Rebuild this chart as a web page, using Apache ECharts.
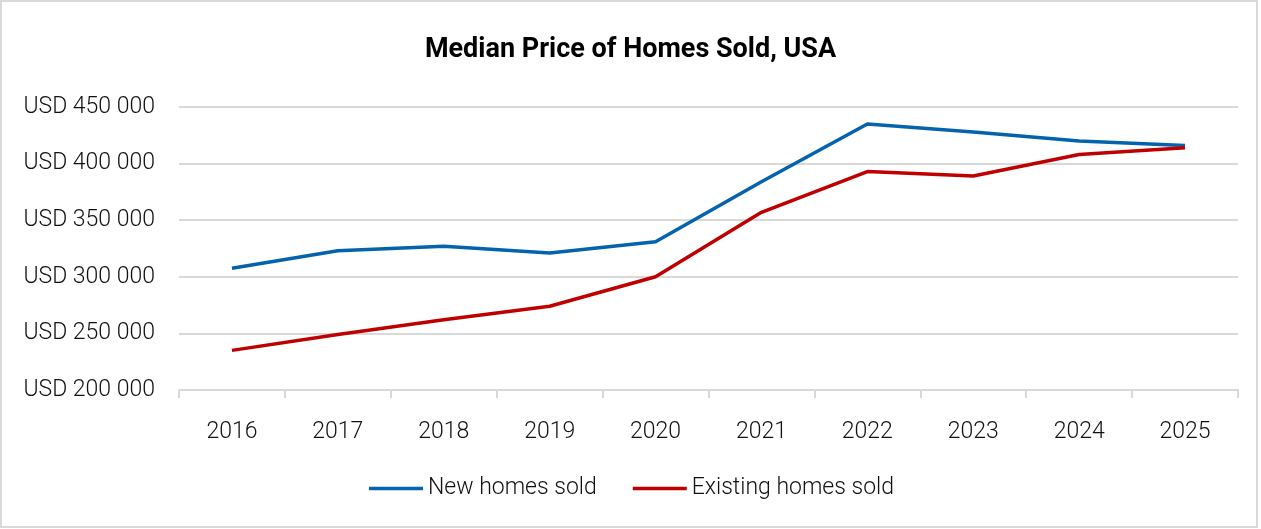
<!DOCTYPE html>
<html><head><meta charset="utf-8">
<script src="https://cdn.jsdelivr.net/npm/echarts@6/dist/echarts.min.js"></script>
<style>html,body{margin:0;padding:0;background:#fff;}#c{width:1261px;height:529px;}</style>
</head><body><div id="c"></div>
<script>
const years = ['2016','2017','2018','2019','2020','2021','2022','2023','2024','2025'];
const newHomes = [307500, 323000, 327000, 321000, 331000, 384000, 435000, 428000, 420000, 416000];
const existingHomes = [235000, 249000, 262000, 274000, 300000, 357000, 393000, 389000, 408000, 414000];
const seriesNames = ['New homes sold', 'Existing homes sold'];
const titleText = 'Median Price of Homes Sold, USA';

const font = 'Roboto';
const chart = echarts.init(document.getElementById('c'));
chart.setOption({
  animation: false,
  backgroundColor: '#fff',
  graphic: [{type:'rect', shape:{x:1,y:1,width:1256,height:526}, style:{fill:'none', stroke:'#d9d9d9', lineWidth:2}, silent:true}],
  title: {text: titleText, left: 'center', top: 32, textStyle:{fontFamily: font, fontWeight:'bold', fontSize:27, color:'#000'}},
  legend: {bottom: 24, left: 364, itemWidth:54, itemHeight:3.5, itemGap:36, icon:'rect',
    textStyle:{fontFamily: font, fontWeight:300, fontSize:23, color:'#111'},
    data: seriesNames},
  grid: {left:179, right:23, top:107, bottom:139},
  xAxis: {type:'category', data: years, boundaryGap:true,
    axisLine:{lineStyle:{color:'#d9d9d9', width:2}},
    axisTick:{show:true, length:8, lineStyle:{color:'#d9d9d9', width:2}},
    axisLabel:{fontFamily: font, fontWeight:300, fontSize:23, color:'#111', margin:31}},
  yAxis: {type:'value', min:200000, max:450000, interval:50000,
    axisLine:{show:false}, axisTick:{show:false},
    splitLine:{lineStyle:{color:'#d9d9d9', width:2}},
    axisLabel:{fontFamily: font, fontWeight:300, fontSize:23, color:'#111', margin:24,
      formatter: v => 'USD ' + String(v).replace(/\B(?=(\d{3})+(?!\d))/g, ' ')}},
  series: [
    {name: seriesNames[0], type:'line', data: newHomes, symbol:'none', lineStyle:{color:'#0563ad', width:3.5}, itemStyle:{color:'#0563ad'}},
    {name: seriesNames[1], type:'line', data: existingHomes, symbol:'none', lineStyle:{color:'#c00000', width:3.5}, itemStyle:{color:'#c00000'}}
  ]
});
</script></body></html>
